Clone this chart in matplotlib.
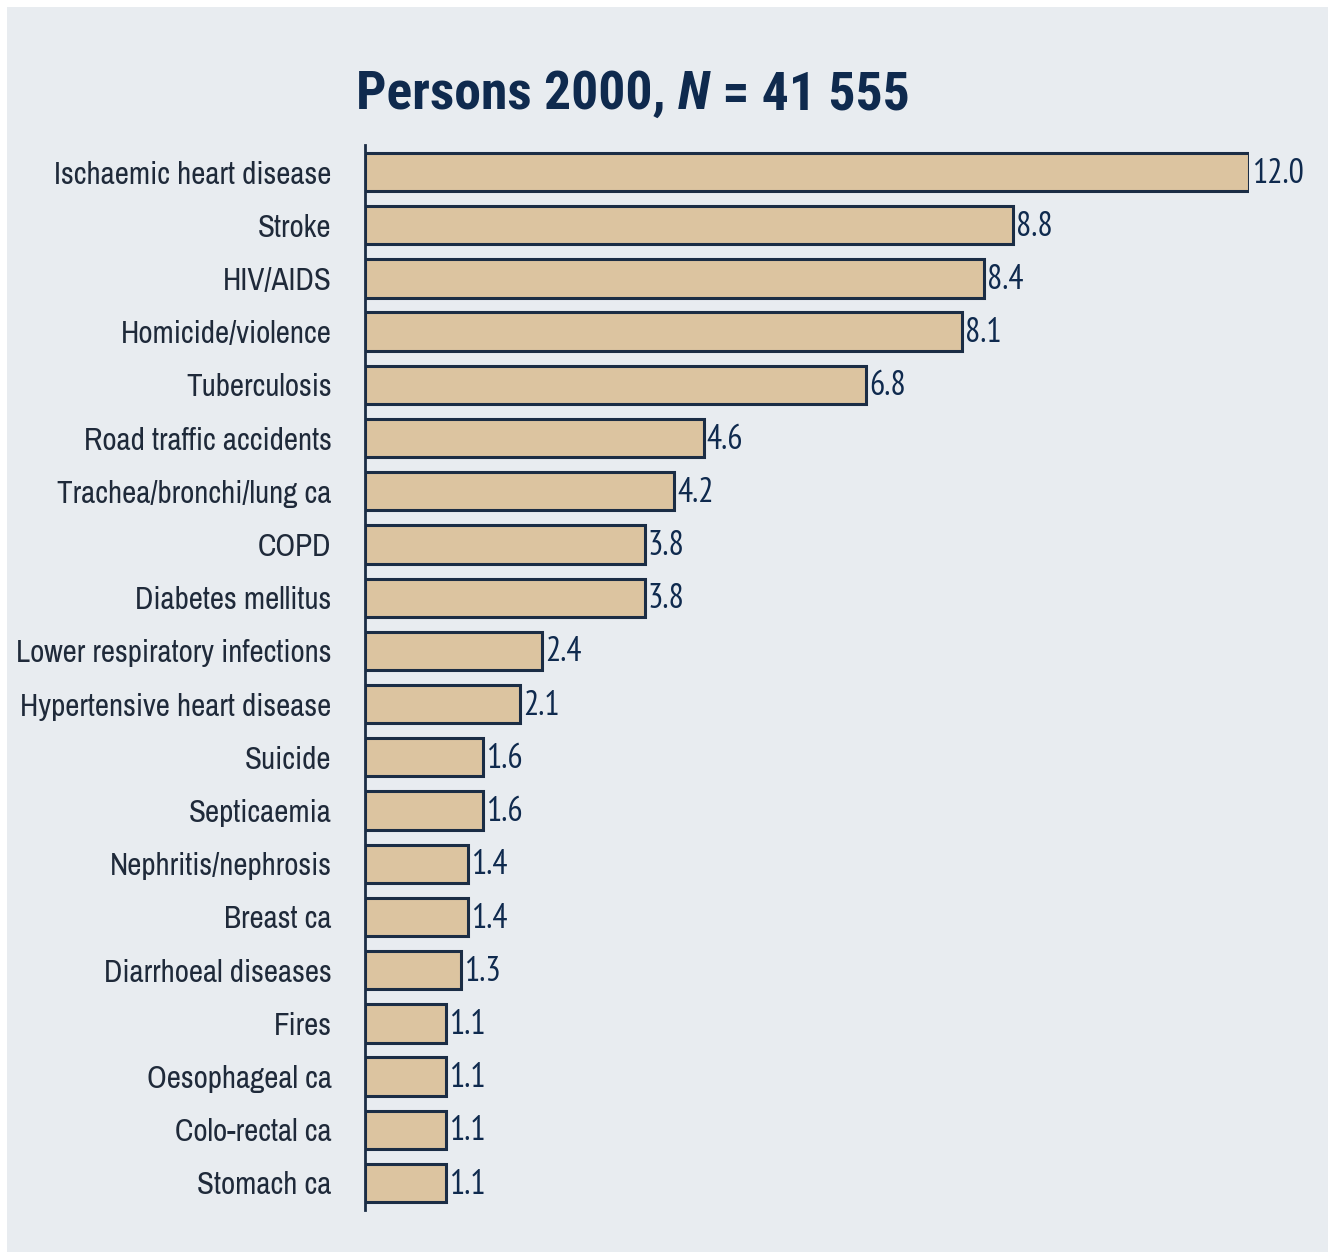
import matplotlib
matplotlib.use("Agg")
import matplotlib.pyplot as plt

causes = ["Ischaemic heart disease", "Stroke", "HIV/AIDS", "Homicide/violence",
          "Tuberculosis", "Road traffic accidents", "Trachea/bronchi/lung ca",
          "COPD", "Diabetes mellitus", "Lower respiratory infections",
          "Hypertensive heart disease", "Suicide", "Septicaemia",
          "Nephritis/nephrosis", "Breast ca", "Diarrhoeal diseases", "Fires",
          "Oesophageal ca", "Colo-rectal ca", "Stomach ca"]
values = [12.0, 8.8, 8.4, 8.1, 6.8, 4.6, 4.2, 3.8, 3.8, 2.4, 2.1, 1.6, 1.6,
          1.4, 1.4, 1.3, 1.1, 1.1, 1.1, 1.1]
value_labels = ["12.0", "8.8", "8.4", "8.1", "6.8", "4.6", "4.2", "3.8", "3.8",
                "2.4", "2.1", "1.6", "1.6", "1.4", "1.4", "1.3", "1.1", "1.1",
                "1.1", "1.1"]

LABEL_FONT = ["Archivo Narrow", "Roboto Condensed", "DejaVu Sans"]
TITLE_FONT = ["Roboto Condensed", "Archivo Narrow", "DejaVu Sans"]
VALUE_FONT = ["PT Sans Narrow", "Roboto Condensed", "DejaVu Sans"]

BG = "#e8ecf0"
BAR = "#dcc4a0"
EDGE = "#1b2d45"
NAVY = "#0f2a4e"
TXT = "#1f2a3a"

W, H = 1335, 1257
fig = plt.figure(figsize=(W / 100, H / 100), dpi=100, facecolor="white")
fig.patches.append(plt.Rectangle((7 / W, 1 - 1252 / H), (1328 - 7) / W, (1252 - 7) / H,
                                 transform=fig.transFigure, facecolor=BG,
                                 edgecolor="none", zorder=-10))
r = fig.canvas.get_renderer()


def fit_size(text, family, target_px, base=24, **kw):
    t = fig.text(0, 0, text, family=family, fontsize=base, **kw)
    w = t.get_window_extent(r).width
    t.remove()
    return base * target_px / w


lab_size = fit_size("Lower respiratory infections", LABEL_FONT, 317)
val_size = fit_size("12.0", VALUE_FONT, 52)

ax = fig.add_axes([365 / W, 1 - 1209.6 / H, (1249 - 365) / W, (1209.6 - 145.4) / H])
ax.set_facecolor("none")
pos = list(range(len(causes)))
ax.barh(pos, values, height=0.72, color=BAR, edgecolor=EDGE, linewidth=2.2, zorder=3)
ax.set_xlim(0, 12)
ax.set_ylim(len(causes) - 0.5, -0.5)
for s in ["top", "right", "bottom"]:
    ax.spines[s].set_visible(False)
ax.spines["left"].set_color(EDGE)
ax.spines["left"].set_linewidth(2)
ax.set_xticks([])
ax.set_yticks(pos)
ax.set_yticklabels(causes, family=LABEL_FONT, fontsize=lab_size, color=TXT)
ax.tick_params(axis="y", length=0, pad=24)

for p, v, lab in zip(pos, values, value_labels):
    ax.text(v + 0.04, p + 0.03, lab, va="center", ha="left", family=VALUE_FONT,
            fontsize=val_size, color=NAVY, clip_on=False)

# title in pieces
parts = [("Persons 2000, ", "normal"), ("N", "italic"), (" = 41 555", "normal")]
ty = 1 - 109 / H
base = 40
texts = [fig.text(0, ty, s, family=TITLE_FONT, fontsize=base, fontweight="bold",
                  fontstyle=st, color=NAVY, ha="left", va="baseline")
         for s, st in parts]
widths = [t.get_window_extent(r).width for t in texts]
scale = 553 / sum(widths)
for t in texts:
    t.set_fontsize(base * scale)
widths = [t.get_window_extent(r).width for t in texts]
cur = 633 - sum(widths) / 2
for t, w in zip(texts, widths):
    t.set_x(cur / W)
    cur += w

fig.savefig("out.png", dpi=100, facecolor="white")
